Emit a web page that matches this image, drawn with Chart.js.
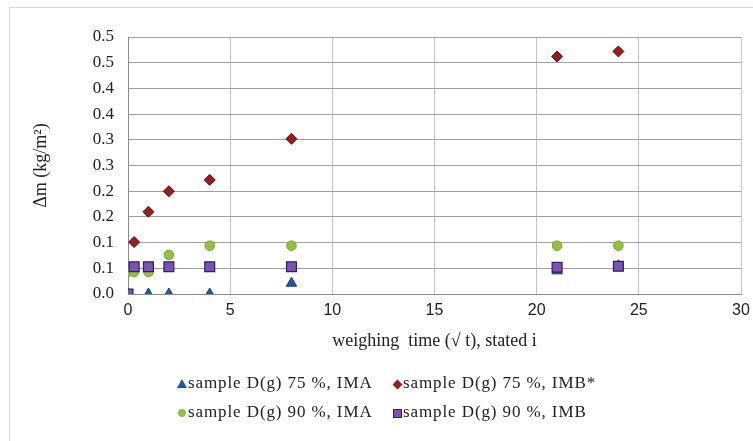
<!DOCTYPE html>
<html>
<head>
<meta charset="utf-8">
<script src="https://cdn.jsdelivr.net/npm/chart.js@4.4.1/dist/chart.umd.min.js"></script>
<style>
  html, body { margin: 0; padding: 0; background: #fff; }
  #wrap { position: relative; width: 753px; height: 441px; overflow: hidden; }
  #frame { position: absolute; left: 9px; top: 7px; width: 800px; height: 500px; border: 1px solid #d6d6d6; }
  #wrap canvas { position: absolute; left: 0; top: 0; }
  .leg { position: absolute; font-family: "Liberation Serif", serif; font-size: 17px; letter-spacing: 0.9px; color: #222; white-space: nowrap; line-height: 18px; }
  .mk { position: absolute; }
</style>
</head>
<body>
<div id="wrap">
  <div id="frame"></div>
  <canvas id="massChart" width="753" height="441"></canvas>
  <div id="legend"></div>
</div>
<script>
// weighing time (sqrt t) at each weighing
const times = [0, 0.3, 1, 2, 4, 8, 21, 24];

// mass change, kg/m2
const d75IMA = [0, null, 0, 0, 0, 0.021, 0.045, 0.055];
const d75IMB = [null, 0.101, 0.16, 0.2, 0.222, 0.302, 0.462, 0.472];
const d90IMA = [0.043, 0.043, 0.043, 0.076, 0.094, 0.094, 0.094, 0.094];
const d90IMB = [0, 0.053, 0.053, 0.053, 0.053, 0.053, 0.052, 0.054];

const seriesNames = [
  "sample D(g) 75 %, IMA",
  "sample D(g) 75 %, IMB*",
  "sample D(g) 90 %, IMA",
  "sample D(g) 90 %, IMB"
];

// Excel-style rounded labels for ticks 0, 0.05, ... 0.5
const yTickLabels = ["0.0", "0.1", "0.1", "0.2", "0.2", "0.3", "0.3", "0.4", "0.4", "0.5", "0.5"];

function toPoints(vals) {
  const pts = [];
  vals.forEach((v, i) => {
    if (v !== null) pts.push({ x: times[i], y: v });
  });
  return pts;
}

const ctx = document.getElementById("massChart");
new Chart(ctx, {
  type: "scatter",
  data: {
    datasets: [
      {
        label: seriesNames[3],
        data: toPoints(d90IMB),
        pointStyle: "rect",
        pointRadius: 7,
        backgroundColor: "#7b52b3",
        borderColor: "#2a2168",
        borderWidth: 1.2,
      },
      {
        label: seriesNames[2],
        data: toPoints(d90IMA),
        pointStyle: "circle",
        pointRadius: 4.8,
        backgroundColor: "#92c13e",
        borderColor: "#7aa52e",
        borderWidth: 1,
      },
      {
        label: seriesNames[1],
        data: toPoints(d75IMB),
        pointStyle: "rectRot",
        pointRadius: 5.5,
        backgroundColor: "#9a1c1c",
        borderColor: "#5e0d0d",
        borderWidth: 1,
      },
      {
        label: seriesNames[0],
        data: toPoints(d75IMA),
        pointStyle: "triangle",
        pointRadius: 6,
        backgroundColor: "#1f57a8",
        borderColor: "#173f80",
        borderWidth: 1,
      },
    ],
  },
  options: {
    responsive: false,
    animation: false,
    layout: {
      padding: { left: 26, right: 12, top: 37, bottom: 85 },
    },
    plugins: {
      legend: { display: false },
      tooltip: { enabled: false },
    },
    scales: {
      x: {
        type: "linear",
        min: 0,
        max: 30,
        ticks: {
          stepSize: 5,
          color: "#222",
          font: { family: "Liberation Sans", size: 16 },
          padding: 7,
        },
        grid: {
          color: "#c4c4c4",
          drawTicks: false,
        },
        border: { color: "#8c8c8c", width: 1 },
        title: {
          display: true,
          text: "weighing  time (\u221a t), stated i",
          color: "#222",
          font: { family: "Liberation Serif", size: 18 },
          padding: { top: 2 },
        },
        afterFit: (scale) => {
          scale.height = 62;
          scale.paddingRight = 0;
        },
      },
      y: {
        min: 0,
        max: 0.5,
        ticks: {
          stepSize: 0.05,
          color: "#222",
          font: { family: "Liberation Serif", size: 17 },
          padding: 14,
          callback: function (value, index) {
            return yTickLabels[index];
          },
        },
        grid: {
          color: "#a0a0a0",
          drawTicks: false,
          borderDash: [2, 2],
        },
        border: { color: "#8c8c8c", width: 1 },
        title: {
          display: true,
          text: "\u0394m (kg/m\u00b2)",
          color: "#222",
          font: { family: "Liberation Serif", size: 18 },
          padding: { bottom: 4 },
        },
        afterFit: (scale) => { scale.width = 102; },
      },
    },
  },
});

// legend laid out as in the original: two rows of two
const legend = document.getElementById("legend");
const legendItems = [
  { name: seriesNames[0], x: 182, y: 384, mark: "tri", color: "#1f57a8" },
  { name: seriesNames[1], x: 397, y: 384, mark: "dia", color: "#9a1c1c" },
  { name: seriesNames[2], x: 182, y: 413, mark: "dot", color: "#92c13e" },
  { name: seriesNames[3], x: 397, y: 413, mark: "sq", color: "#7b52b3" },
];
legendItems.forEach((it) => {
  const m = document.createElement("div");
  m.className = "mk";
  if (it.mark === "tri") {
    m.style.cssText = `left:${it.x - 5}px;top:${it.y - 5}px;width:0;height:0;border-left:5px solid transparent;border-right:5px solid transparent;border-bottom:9px solid ${it.color};`;
  } else if (it.mark === "dia") {
    m.style.cssText = `left:${it.x - 3.5}px;top:${it.y - 3.5}px;width:7px;height:7px;background:${it.color};transform:rotate(45deg);`;
  } else if (it.mark === "dot") {
    m.style.cssText = `left:${it.x - 4}px;top:${it.y - 4}px;width:8px;height:8px;border-radius:50%;background:${it.color};`;
  } else {
    m.style.cssText = `left:${it.x - 4}px;top:${it.y - 4}px;width:7px;height:7px;background:${it.color};border:1px solid #2a2168;`;
  }
  legend.appendChild(m);
  const t = document.createElement("div");
  t.className = "leg";
  t.textContent = it.name;
  t.style.left = (it.x + 6) + "px";
  t.style.top = (it.y - 10) + "px";
  legend.appendChild(t);
});
</script>
</body>
</html>
